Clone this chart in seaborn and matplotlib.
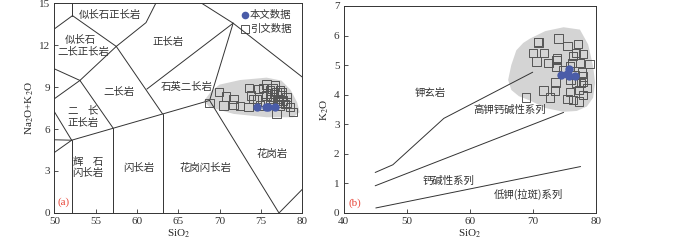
import numpy as np
import pandas as pd
import seaborn as sns
import matplotlib.pyplot as plt

sns.set_style('ticks')
plt.rcParams['font.family'] = ['Liberation Serif', 'Noto Sans CJK SC', 'DejaVu Sans']
plt.rcParams['mathtext.fontset'] = 'stix'
cjk = ['Noto Sans CJK SC', 'DejaVu Sans']

# ---------- (a) TAS 图 ----------
# 分区边界线 (SiO2, Na2O+K2O)
tas_lines = [
    ([52.2, 52.2], [15.0, 14.1]),
    ([50.0, 52.2], [13.15, 14.1]),
    ([52.2, 57.5], [14.1, 11.9]),
    ([57.5, 61.1, 62.3], [11.9, 13.6, 15.0]),
    ([50.0, 53.1, 57.5], [8.16, 9.47, 11.9]),
    ([50.0, 53.1], [10.3, 9.47]),
    ([53.1, 57.1], [9.47, 6.08]),
    ([57.5, 63.1], [11.9, 7.08]),
    ([61.2, 71.65], [8.85, 13.56]),
    ([67.8, 71.65, 80.0], [15.0, 13.56, 9.72]),
    ([71.65, 68.8, 77.2, 80.0], [13.56, 8.04, 0.0, 1.68]),
    ([52.1, 68.8], [5.2, 8.04]),
    ([50.0, 52.1], [7.24, 5.2]),
    ([50.0, 52.1], [5.23, 5.2]),
    ([50.0, 52.1], [4.32, 5.2]),
    ([52.1, 52.1], [5.2, 0.0]),
    ([57.1, 57.1], [6.05, 0.0]),
    ([63.1, 63.1], [7.08, 0.0]),
]
tas_labels = [
    ('似长石正长岩', 56.7, 14.15), ('似长石', 53.1, 12.35), ('二长正长岩', 53.5, 11.5),
    ('正长岩', 63.8, 12.2), ('二长岩', 57.8, 8.64), ('石英二长岩', 66.0, 9.0),
    ('二    长', 53.5, 7.3), ('正长岩', 53.5, 6.45), ('辉    石', 54.1, 3.65),
    ('闪长岩', 54.1, 2.88), ('闪长岩', 60.2, 3.24), ('花岗闪长岩', 68.3, 3.24),
    ('花岗岩', 76.3, 4.2),
]
tas_area_x = [68.1, 69.0, 70.0, 72.5, 75.7, 77.5, 78.6, 79.4, 79.7, 78.9, 75.7, 71.7, 68.8]
tas_area_y = [8.0, 8.7, 9.17, 9.5, 9.67, 9.46, 8.8, 7.9, 7.2, 6.84, 6.84, 7.08, 7.56]

ref_a_x = [68.8, 69.9, 70.8, 70.5, 71.7, 71.7, 72.5, 73.5, 73.6, 73.8, 74.1, 74.7, 74.5, 74.9,
           75.7, 75.3, 76.1, 75.7, 76.3, 76.5, 76.7, 76.9, 77.3, 77.1, 77.5, 77.7, 77.9, 77.3,
           76.9, 78.5, 78.9, 78.1, 76.1, 75.5, 76.6, 77.0, 77.6, 76.4, 77.2, 78.2]
ref_a_y = [7.87, 8.64, 8.33, 7.68, 8.16, 7.73, 7.63, 7.56, 8.93, 8.4, 8.16, 8.88, 8.16, 7.68,
           9.19, 8.95, 8.76, 8.4, 8.28, 7.92, 9.12, 8.64, 8.76, 8.16, 8.4, 8.04, 7.8, 7.68,
           7.08, 7.56, 7.2, 8.28, 8.16, 7.92, 8.5, 8.0, 8.6, 8.9, 7.9, 7.9]
our_a_x = [74.5, 75.6, 75.9, 76.7]
our_a_y = [7.56, 7.56, 7.6, 7.56]

# ---------- (b) SiO2-K2O 图 ----------
k_lines = [
    ([45.0, 47.8, 55.9, 70.0], [1.37, 1.63, 3.2, 4.76]),
    ([45.0, 74.9], [0.92, 3.40]),
    ([45.1, 77.6], [0.17, 1.57]),
]
k_labels = [('钾玄岩', 53.7, 4.05), ('高钾钙碱性系列', 66.4, 3.49),
            ('钙碱性系列', 56.7, 1.09), ('低钾(拉斑)系列', 69.3, 0.62)]
k_area_x = [66.1, 66.6, 67.4, 68.5, 69.6, 72.0, 74.9, 77.5, 78.8, 79.6, 79.9, 79.6, 78.6,
            77.0, 74.9, 72.0, 69.6, 67.8, 66.6, 66.1]
k_area_y = [4.5, 5.0, 5.5, 5.75, 5.9, 6.15, 6.28, 6.2, 5.7, 4.95, 4.4, 3.9, 3.6,
            3.45, 3.42, 3.55, 3.8, 3.95, 4.16, 4.5]
ref_b_x = [70.9, 70.0, 70.6, 71.8, 72.5, 74.1, 75.5, 77.2, 73.8, 73.8, 73.6, 71.7, 72.7,
           73.5, 68.9, 76.4, 78.0, 79.0, 76.9, 76.2, 77.5, 74.9, 75.9, 76.7, 78.0, 77.7,
           78.6, 77.3, 78.0, 75.9, 76.4, 77.3, 75.5, 78.0, 76.9, 70.8, 73.9, 76.0, 77.8]
ref_b_y = [5.76, 5.42, 5.12, 5.4, 5.08, 5.9, 5.65, 5.71, 5.17, 4.95, 4.41, 4.14, 3.9,
           4.14, 3.9, 5.31, 5.37, 5.03, 5.4, 5.06, 5.06, 4.84, 4.95, 4.67, 4.61, 4.39,
           4.22, 4.16, 3.99, 4.1, 3.82, 3.77, 3.85, 4.44, 4.39, 5.78, 5.22, 4.5, 4.75]
our_b_x = [74.5, 75.8, 75.8, 76.7, 75.5]
our_b_y = [4.68, 4.87, 4.63, 4.63, 4.70]

blue = '#4a5ca8'
sq_edge = '#555555'
line_c = '#333333'

fig = plt.figure(figsize=(7.0, 2.43), dpi=100)
ax1 = fig.add_axes([0.0776, 0.1235, 0.354, 0.864])
ax2 = fig.add_axes([0.491, 0.1235, 0.360, 0.852])

# (a)
ax1.fill(tas_area_x, tas_area_y, color='#d4d4d4', lw=0, zorder=1)
for xs, ys in tas_lines:
    ax1.plot(xs, ys, color=line_c, lw=0.7, zorder=2)
for t, x, y in tas_labels:
    ax1.text(x, y, t, fontsize=7.5, family=cjk, color='#333333', ha='center', va='center')
ref_a = pd.DataFrame({'x': ref_a_x, 'y': ref_a_y})
our_a = pd.DataFrame({'x': our_a_x, 'y': our_a_y})
sns.scatterplot(data=ref_a, x='x', y='y', ax=ax1, marker='s', s=36, facecolor='none',
                edgecolor=sq_edge, linewidth=0.7, zorder=3)
sns.scatterplot(data=our_a, x='x', y='y', ax=ax1, marker='o', s=36, color=blue,
                edgecolor=blue, linewidth=0, zorder=4)
ax1.scatter([0.77], [0.942], transform=ax1.transAxes, marker='o', s=30, color=blue, lw=0)
ax1.text(0.79, 0.942, '本文数据', transform=ax1.transAxes, fontsize=7.5, family=cjk,
         va='center', color='#333333')
ax1.scatter([0.77], [0.875], transform=ax1.transAxes, marker='s', s=30, facecolor='none',
            edgecolor=sq_edge, lw=0.7)
ax1.text(0.79, 0.875, '引文数据', transform=ax1.transAxes, fontsize=7.5, family=cjk,
         va='center', color='#333333')
ax1.text(51.1, 0.8, '(a)', color='#e8473a', fontsize=8, ha='center', va='center')
ax1.set_xlim(50, 80)
ax1.set_ylim(0, 15)
ax1.set_xticks(np.arange(50, 81, 5))
ax1.set_yticks(np.arange(0, 16, 3))
ax1.set_xlabel(r'SiO$_2$', fontsize=8, labelpad=1)
ax1.set_ylabel(r'Na$_2$O+K$_2$O', fontsize=8, labelpad=2)

# (b)
ax2.fill(k_area_x, k_area_y, color='#d4d4d4', lw=0, zorder=1)
for xs, ys in k_lines:
    ax2.plot(xs, ys, color=line_c, lw=0.7, zorder=2)
for t, x, y in k_labels:
    ax2.text(x, y, t, fontsize=7.5, family=cjk, color='#333333', ha='center', va='center')
ref_b = pd.DataFrame({'x': ref_b_x, 'y': ref_b_y})
our_b = pd.DataFrame({'x': our_b_x, 'y': our_b_y})
sns.scatterplot(data=ref_b, x='x', y='y', ax=ax2, marker='s', s=36, facecolor='none',
                edgecolor=sq_edge, linewidth=0.7, zorder=3)
sns.scatterplot(data=our_b, x='x', y='y', ax=ax2, marker='o', s=36, color=blue,
                edgecolor=blue, linewidth=0, zorder=4)
ax2.text(41.7, 0.34, '(b)', color='#e8473a', fontsize=8, ha='center', va='center')
ax2.set_xlim(40, 80)
ax2.set_ylim(0, 7)
ax2.set_xticks(np.arange(40, 81, 10))
ax2.set_yticks(np.arange(0, 8, 1))
ax2.set_xlabel(r'SiO$_2$', fontsize=8, labelpad=1)
ax2.set_ylabel(r'K$_2$O', fontsize=8, labelpad=2)

for ax in (ax1, ax2):
    ax.tick_params(direction='in', length=3, width=0.6, labelsize=8, pad=3,
                   colors='#333333')
    for sp in ax.spines.values():
        sp.set_linewidth(0.7)
        sp.set_color('#333333')

fig.savefig('out.png', dpi=100)
